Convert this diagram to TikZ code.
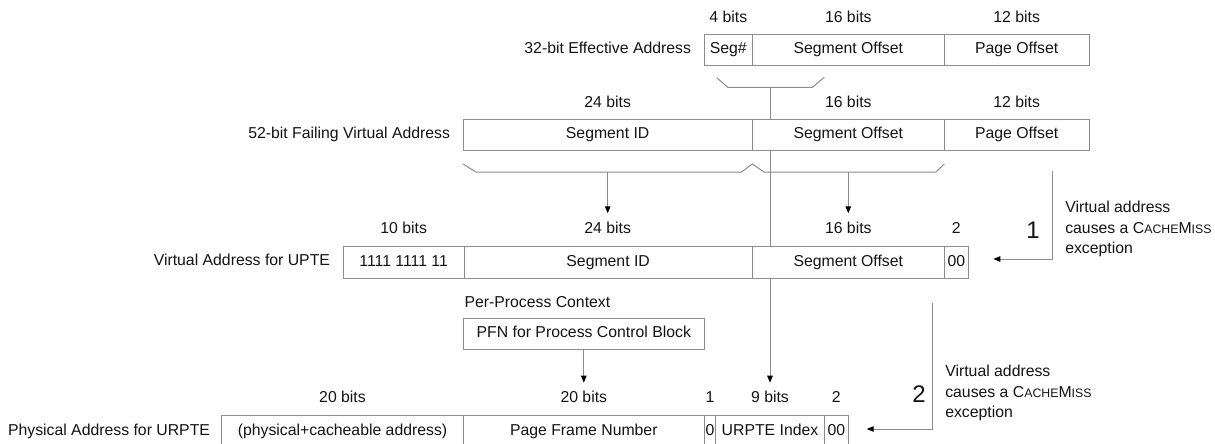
\documentclass[tikz,border=0pt]{standalone}
\usepackage{fontspec}
\setmainfont{Liberation Sans}
\usetikzlibrary{arrows.meta}
\definecolor{linegray}{RGB}{140,140,140}
\definecolor{ink}{RGB}{20,20,20}
\newcommand\scx[1]{{\fontsize{12.3}{14}\selectfont #1}}
\newcommand\mkfield[5]{\node[fieldbox, minimum width={(#3-#2)*1pt}] (#1) at ({(#2+#3)/2},{#4+15.75}) {#5};}
\begin{document}
\begin{tikzpicture}[x=1pt,y=-1pt,
  every node/.style={inner sep=0pt, outer sep=0pt, text=ink, font=\fontsize{15.8}{20.8}\selectfont},
  fieldbox/.style={draw=linegray, line width=1pt, fill=white, minimum height=31.5pt, text height=0.72em, text depth=0pt},
  bitlbl/.style={text height=0.72em, text depth=0pt},
  rowlbl/.style={anchor=east, text height=0.72em, text depth=0pt},
  conn/.style={draw=linegray, line width=1pt},
  arr/.style={conn, -{Triangle[length=7pt,width=5.5pt,black]}},
  bignum/.style={font=\fontsize{24}{28}\selectfont, text height=0.72em, text depth=0pt},
  note/.style={anchor=north west, align=left}
]
\useasboundingbox (0,0) rectangle (1215,444);
\fill[white] (0,0) rectangle (1215,444);

% coordinates for connector ends
\coordinate (b1mid) at (770,87.3);
\coordinate (idxin) at (770,382.7);
\coordinate (b2l) at (607.7,172);
\coordinate (t3l) at (607.7,213.3);
\coordinate (b2r) at (848.3,172);
\coordinate (t3r) at (848.3,213.3);
\coordinate (pfnin) at (583.8,382.7);
\coordinate (e1) at (1052.7,171);
\coordinate (e1t) at (993.3,259);
\coordinate (e2) at (932.3,302.7);
\coordinate (e2t) at (866.7,429);

% long vertical connector (hidden behind boxes)
\draw[arr] (b1mid) -- (idxin);

% brackets
\draw[conn] (716.7,77.7) -- (727.7,87.3) -- (812.3,87.3) -- (824.3,77.3);
\draw[conn] (463,164) -- (476,172) -- (741.5,172) -- (752.3,164) -- (764,172) -- (936,172) -- (944.3,164);

% row 1: 32-bit effective address
\node[rowlbl] (r1) at (691,50.2) {32-bit Effective Address};
\mkfield{seg}{704.3}{752.3}{34.3}{Seg\#}
\mkfield{soa}{752.3}{944.3}{34.3}{Segment Offset}
\mkfield{poa}{944.3}{1089}{34.3}{Page Offset}
\node[bitlbl] (l1a) at (728.3,19) {4 bits};
\node[bitlbl] (l1b) at (848.3,19) {16 bits};
\node[bitlbl] (l1c) at (1016.7,19) {12 bits};

% row 2: 52-bit failing virtual address
\node[rowlbl] (r2) at (450,135) {52-bit Failing Virtual Address};
\mkfield{sidb}{463}{752.3}{119}{Segment ID}
\mkfield{sob}{752.3}{944.3}{119}{Segment Offset}
\mkfield{pob}{944.3}{1089}{119}{Page Offset}
\node[bitlbl] (l2a) at (607.7,104) {24 bits};
\node[bitlbl] (l2b) at (848.3,104) {16 bits};
\node[bitlbl] (l2c) at (1016.7,104) {12 bits};

% row 3: virtual address for UPTE
\node[rowlbl] (r3) at (330,262.2) {Virtual Address for UPTE};
\mkfield{ones}{343.3}{464}{246.7}{1111 1111 11}
\mkfield{sidc}{464}{752.3}{246.7}{Segment ID}
\mkfield{soc}{752.3}{944.3}{246.7}{Segment Offset}
\mkfield{zzc}{944.3}{968.3}{246.7}{00}
\node[bitlbl] (l3a) at (403.7,230) {10 bits};
\node[bitlbl] (l3b) at (607.7,230) {24 bits};
\node[bitlbl] (l3c) at (848.3,230) {16 bits};
\node[bitlbl] (l3d) at (956.3,230) {2};

% per-process context
\node[bitlbl, anchor=west] (ctx) at (464.5,304) {Per-Process Context};
\mkfield{pfn}{463.3}{704.3}{318.3}{PFN for Process Control Block}

% row 5: physical address for URPTE
\node[rowlbl] (r5) at (210,431.5) {Physical Address for URPTE};
\mkfield{phys}{221.7}{463.3}{415.7}{(physical+cacheable address)}
\mkfield{pfnum}{463.3}{704.3}{415.7}{Page Frame Number}
\mkfield{zero}{704.3}{715.7}{415.7}{0}
\mkfield{idx}{715.7}{824.3}{415.7}{URPTE Index}
\mkfield{zze}{824.3}{848.3}{415.7}{00}
\node[bitlbl] (l5a) at (342.5,399) {20 bits};
\node[bitlbl] (l5b) at (583.8,399) {20 bits};
\node[bitlbl] (l5c) at (710,399) {1};
\node[bitlbl] (l5d) at (770,399) {9 bits};
\node[bitlbl] (l5e) at (836.3,399) {2};

% connectors
\draw[arr] (b2l) -- (t3l);
\draw[arr] (b2r) -- (t3r);
\draw[arr] (pfn.south -| pfnin) -- (pfnin);
\draw[arr] (e1) |- (e1t);
\draw[arr] (e2) |- (e2t);

% step numbers and notes
\node[bignum] (n1) at (1033,235) {1};
\node[note] (t1) at (1065.3,200.9) {Virtual address\\causes a C\scx{ACHE}M\scx{ISS}\\exception};
\node[bignum] (n2) at (919,399) {2};
\node[note] (t2) at (945.3,364.9) {Virtual address\\causes a C\scx{ACHE}M\scx{ISS}\\exception};
\end{tikzpicture}
\end{document}
